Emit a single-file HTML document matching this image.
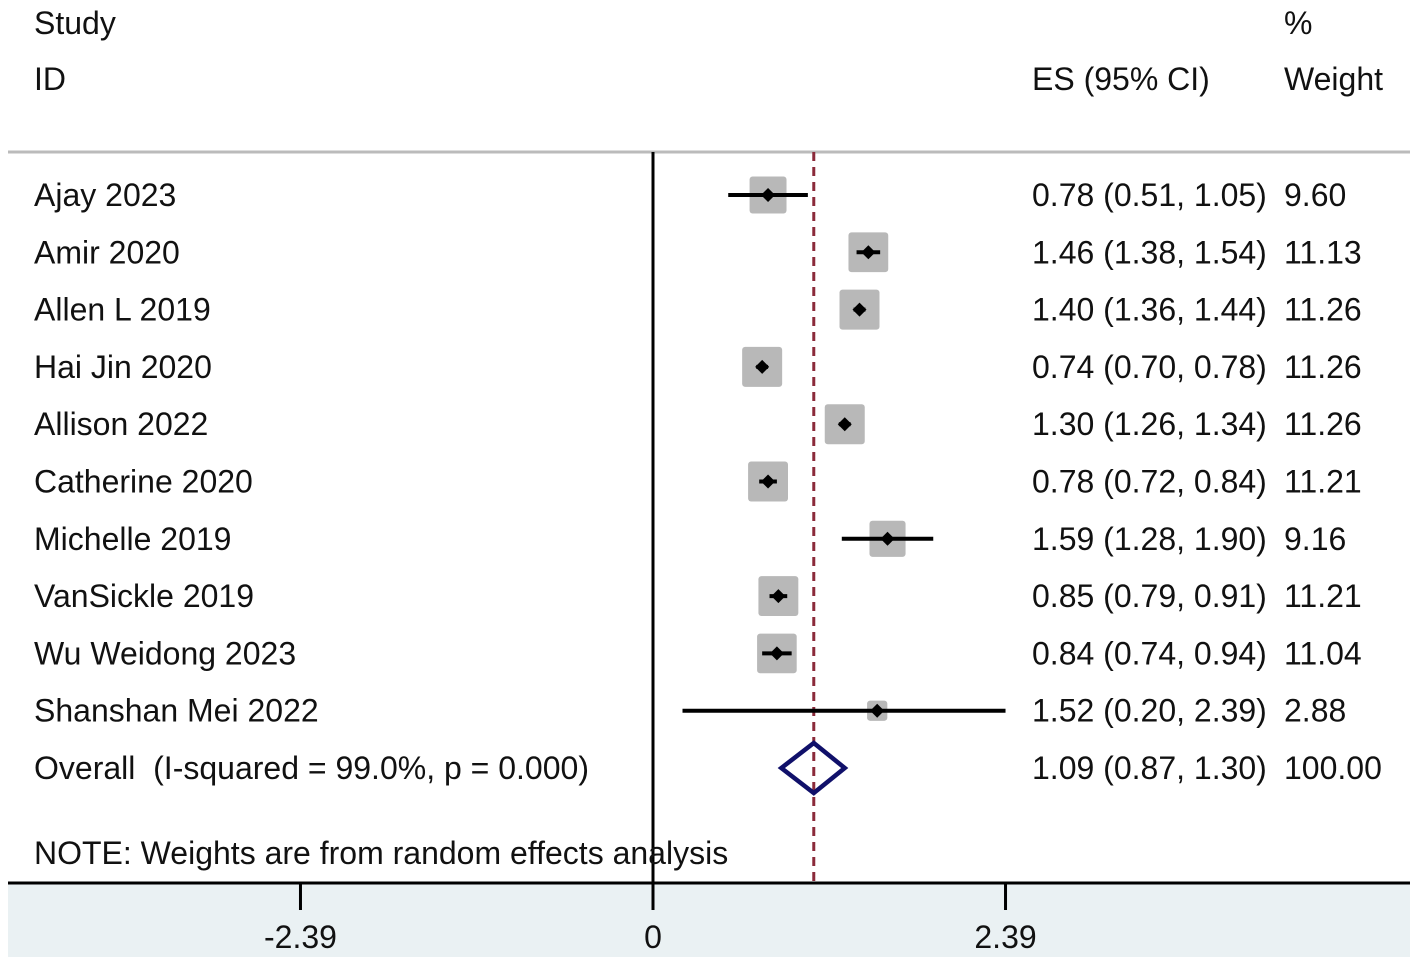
<!DOCTYPE html>
<html><head><meta charset="utf-8"><style>
body{margin:0;background:#fff;}
svg text{font-family:"Liberation Sans",Arial,sans-serif;font-size:32px;fill:#111;}
</style></head><body>
<svg id="chart" width="1417" height="963" xmlns="http://www.w3.org/2000/svg">
<rect x="8" y="883" width="1402" height="74" fill="#eaf1f3"/>
<line x1="8" y1="152" x2="1410" y2="152" stroke="#bbb" stroke-width="3"/>
<text x="34" y="34">Study</text>
<text x="34" y="90">ID</text>
<text x="1032" y="90">ES (95% CI)</text>
<text x="1284" y="34">%</text>
<text x="1284" y="90">Weight</text>
<g id="marks"></g>
<text x="34" y="864">NOTE: Weights are from random effects analysis</text>
</svg>
<script>
const studies=["Ajay 2023","Amir 2020","Allen L 2019","Hai Jin 2020","Allison 2022","Catherine 2020","Michelle 2019","VanSickle 2019","Wu Weidong 2023","Shanshan Mei 2022"];
const es=[0.78,1.46,1.40,0.74,1.30,0.78,1.59,0.85,0.84,1.52];
const lo=[0.51,1.38,1.36,0.70,1.26,0.72,1.28,0.79,0.74,0.20];
const hi=[1.05,1.54,1.44,0.78,1.34,0.84,1.90,0.91,0.94,2.39];
const weights=[9.60,11.13,11.26,11.26,11.26,11.21,9.16,11.21,11.04,2.88];
const overall=[1.09,0.87,1.30];
const ticks=[-2.39,0,2.39];
const ticksLabels=["-2.39","0","2.39"];
const NS="http://www.w3.org/2000/svg";
const g=document.getElementById('marks');
const X=v=>653+v*147.5;
const Y=i=>195+i*57.3;
function mk(t,a){const e=document.createElementNS(NS,t);for(const k in a)e.setAttribute(k,a[k]);g.appendChild(e);return e;}
const f=v=>v.toFixed(2);
let e=mk('line',{x1:X(0),y1:152,x2:X(0),y2:883,stroke:'#000','stroke-width':3});


e=mk('line',{x1:X(overall[0]),y1:152,x2:X(overall[0]),y2:883,stroke:'#8b2a3a','stroke-width':3,'stroke-dasharray':'9,6'});


studies.forEach((s,i)=>{
  const y=Y(i);
  let t=mk('text',{x:34,y:y+11});t.textContent=s;
  
  
  const side=40*Math.sqrt(weights[i]/11.26);
  let r=mk('rect',{x:X(es[i])-side/2,y:y-side/2,width:side,height:side,fill:'#b8b8b8',rx:3});
  
  
  let l=mk('line',{x1:X(lo[i]),y1:y,x2:X(hi[i]),y2:y,stroke:'#000','stroke-width':4});
  
  
  let p=mk('path',{d:`M${X(es[i])-7},${y} L${X(es[i])},${y-7} L${X(es[i])+7},${y} L${X(es[i])},${y+7}Z`,fill:'#000'});
  
  
  let c=mk('text',{x:1032,y:y+11});c.textContent=`${f(es[i])} (${f(lo[i])}, ${f(hi[i])})`;
  
  
  let w=mk('text',{x:1284,y:y+11});w.textContent=f(weights[i]);
  
  
});
const yo=Y(10);
let t=mk('text',{x:34,y:yo+11});t.textContent="Overall\u00a0\u00a0(I-squared = 99.0%, p = 0.000)";


let d=mk('path',{d:`M${X(overall[1])},${yo} L${X(overall[0])},${yo-25} L${X(overall[2])},${yo} L${X(overall[0])},${yo+25}Z`,fill:'none',stroke:'#10106a','stroke-width':4.5});


t=mk('text',{x:1032,y:yo+11});t.textContent=`${f(overall[0])} (${f(overall[1])}, ${f(overall[2])})`;


t=mk('text',{x:1284,y:yo+11});t.textContent="100.00";


let ax=mk('line',{x1:8,y1:883,x2:1410,y2:883,stroke:'#000','stroke-width':3});


ticks.forEach((v,i)=>{
  let k=mk('line',{x1:X(v),y1:883,x2:X(v),y2:910,stroke:'#000','stroke-width':3});
  
  
  let tl=mk('text',{x:X(v),y:948,'text-anchor':'middle'});tl.textContent=ticksLabels[i];
  
  
});
</script>
</body></html>
